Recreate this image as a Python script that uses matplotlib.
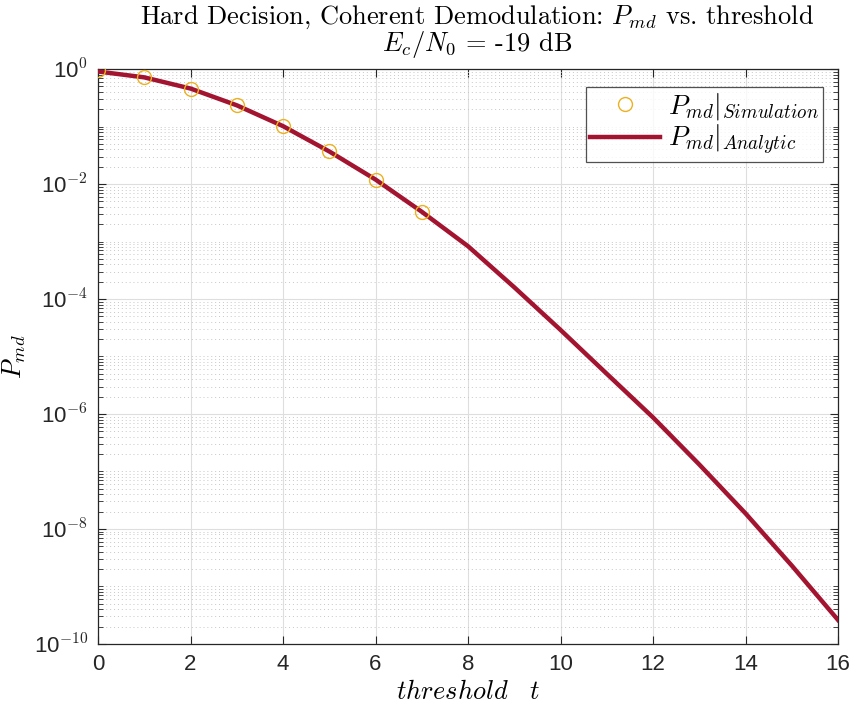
import numpy as np
import matplotlib
matplotlib.use("Agg")
import matplotlib.pyplot as plt
from matplotlib.ticker import LogLocator, NullFormatter, FixedLocator

plt.rcParams['font.family'] = ['Liberation Sans', 'DejaVu Sans']
plt.rcParams['mathtext.fontset'] = 'cm'
plt.rcParams['axes.unicode_minus'] = False

# values
threshold_sim = [0, 1, 2, 3, 4, 5, 6, 7]
pmd_sim = [0.95, 0.73, 0.46, 0.235, 0.102, 0.037, 0.012, 0.0033]

threshold_ana = [0, 1, 2, 3, 4, 5, 6, 7, 8, 9, 10, 11, 12, 13, 14, 15, 16]
pmd_ana = [0.91, 0.72, 0.46, 0.235, 0.102, 0.037, 0.012, 0.0033, 8.3e-4,
           1.6e-4, 2.9e-5, 5.0e-6, 8.7e-7, 1.32e-7, 1.86e-8, 2.3e-9, 2.6e-10]

line_color = (0.635, 0.078, 0.184)
marker_color = (0.929, 0.694, 0.125)
axis_color = (0.15, 0.15, 0.15)

fig = plt.figure(figsize=(8.54, 7.13), dpi=100)
ax = fig.add_axes([0.1148, 0.097, 0.8665, 0.806])

ax.semilogy(threshold_sim, pmd_sim, 'o', mfc='none', mec=marker_color,
            ms=10, mew=1.0, label=r'$P_{md}|_{Simulation}$', zorder=4)
ax.semilogy(threshold_ana, pmd_ana, '-', color=line_color, lw=3.2,
            label=r'$P_{md}|_{Analytic}$', zorder=3)

ax.set_xlim(0, 16)
ax.set_ylim(1e-10, 1)
ax.xaxis.set_major_locator(FixedLocator(range(0, 17, 2)))
ax.yaxis.set_major_locator(FixedLocator([10.0**k for k in range(-10, 1, 2)]))
ax.yaxis.set_minor_locator(LogLocator(base=10, subs=np.arange(1, 10), numticks=30))
ax.yaxis.set_minor_formatter(NullFormatter())
ax.set_yticklabels([r'10$^{%d}$' % k for k in range(-10, 1, 2)])

ax.grid(True, which='major', color=(0.87, 0.87, 0.87), lw=0.8)
ax.grid(True, which='minor', axis='y', color=(0.78, 0.78, 0.78), lw=0.7,
        linestyle=(0, (1, 3)))
ax.set_axisbelow(True)

ax.tick_params(which='both', direction='in', top=True, right=True,
               colors=axis_color, labelsize=16, pad=7)
ax.tick_params(which='major', length=6, width=0.8)
ax.tick_params(which='minor', length=3.5, width=0.6)
for s in ax.spines.values():
    s.set_color(axis_color)
    s.set_linewidth(0.9)

ax.set_title('Hard Decision, Coherent Demodulation: $P_{md}$ vs. threshold\n'
             '$E_c/N_0$ = -19 dB', fontsize=19, family='cmr10', pad=13,
             linespacing=0.9, x=0.512)
ax.set_xlabel(r'$threshold \quad t$', fontsize=19, labelpad=4)
ax.set_ylabel(r'$P_{md}$', fontsize=19)
ax.yaxis.set_label_coords(-0.094, 0.5)

leg = ax.legend(loc='upper right', bbox_to_anchor=(0.98, 0.969), fontsize=19.5,
                frameon=True, fancybox=False, edgecolor=axis_color,
                handlelength=2.6, borderpad=0.15, labelspacing=0.05,
                handletextpad=0.3, borderaxespad=0)
leg.get_frame().set_linewidth(0.9)

fig.savefig('out.png', dpi=100)
